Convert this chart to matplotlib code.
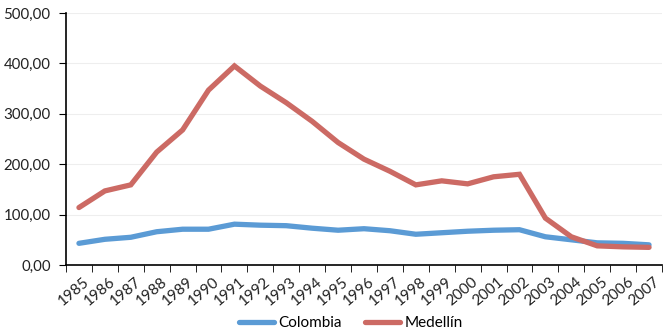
import matplotlib
matplotlib.use("Agg")
import matplotlib.pyplot as plt
import matplotlib.transforms as mtransforms
import numpy as np

years = [str(y) for y in range(1985, 2008)]
colombia = [43, 51, 55, 66, 71, 71, 81, 79, 78, 73, 69, 72, 68, 61, 64, 67, 69, 70, 56, 50, 44, 43, 40]
medellin = [114, 147, 159, 224, 268, 347, 395, 355, 322, 285, 243, 210, 186, 159, 167, 161, 175, 180, 93, 56, 38, 36, 35]
yticks = [0, 100, 200, 300, 400, 500]

plt.rcParams['font.family'] = ['Lato', 'DejaVu Sans']

fig = plt.figure(figsize=(6.65, 3.35), dpi=100)
ax = fig.add_axes([66/665, 1-265/335, (662-66)/665, (265-13)/335])

x = np.arange(len(years))
ax.plot(x, colombia, color='#5b9bd5', lw=3.8, solid_capstyle='round', solid_joinstyle='miter', label='Colombia')
ax.plot(x, medellin, color='#cc6a64', lw=3.8, solid_capstyle='round', solid_joinstyle='miter', label='Medellín')

ax.set_xlim(-0.5, len(years) - 0.5)
ax.set_ylim(0, 500)
ax.set_yticks(yticks)
ax.set_yticklabels([f"{v:,.2f}".replace('.', ',') for v in yticks], fontsize=10.8, color='#222222')
ax.yaxis.grid(True, color='#eeeeee', lw=0.8)
ax.set_axisbelow(True)

ax.set_xticks(x)
ax.set_xticklabels(years, rotation=40, fontsize=11, color='#222222', ha='right', rotation_mode='anchor')
ax.tick_params(axis='x', length=0, pad=7)
offset = mtransforms.ScaledTranslation(4/100, 0, fig.dpi_scale_trans)
for lab in ax.get_xticklabels():
    lab.set_transform(lab.get_transform() + offset)
ax.set_xticks(np.arange(-0.5, len(years), 1), minor=True)
ax.tick_params(axis='x', which='minor', length=5, direction='out', color='black')
ax.tick_params(axis='y', length=5, direction='out', color='black', pad=6)

for s in ['top', 'right']:
    ax.spines[s].set_visible(False)
ax.spines['left'].set_color('black')
ax.spines['bottom'].set_color('black')
ax.spines['left'].set_linewidth(1.2)
ax.spines['bottom'].set_linewidth(1.2)

fig.legend(loc='center', bbox_to_anchor=(351/665, 1-323/335), ncol=2, frameon=False,
           fontsize=11, handlelength=2.3, columnspacing=1.5, handletextpad=0.3)

fig.savefig('out.png', dpi=100)
